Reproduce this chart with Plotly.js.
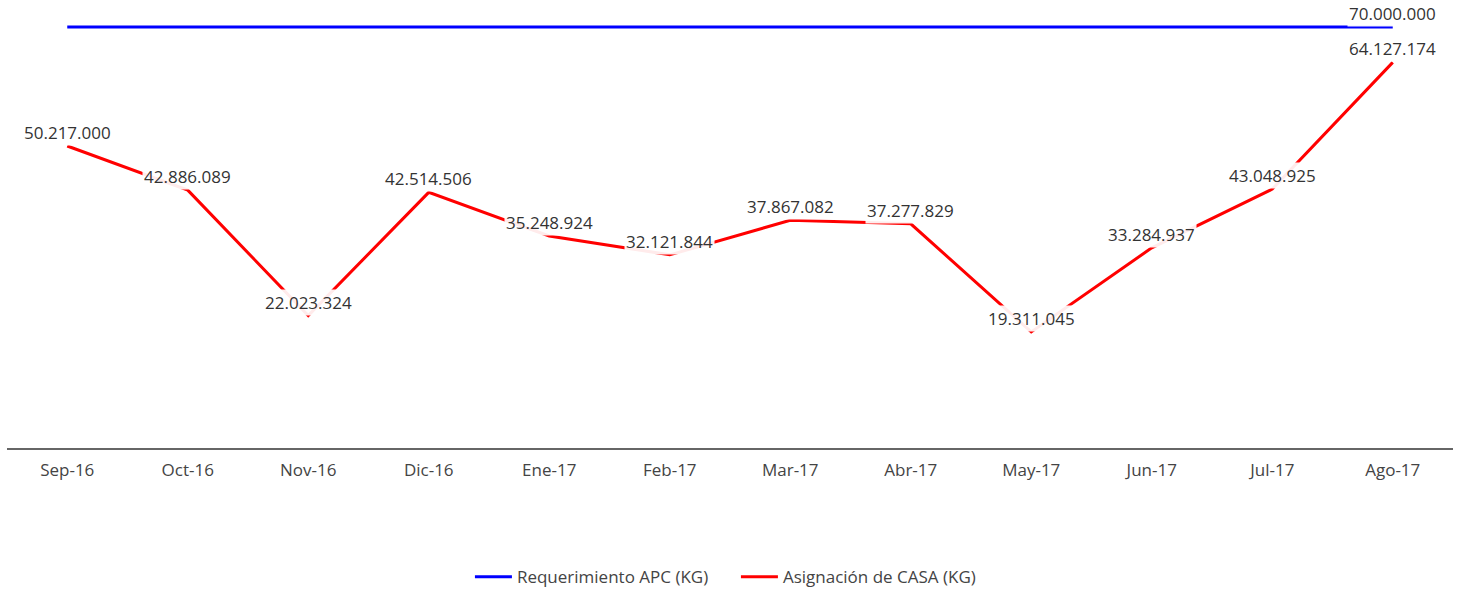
<!DOCTYPE html>
<html>
<head>
<meta charset="utf-8">
<script src="https://cdn.plot.ly/plotly-3.0.1.min.js"></script>
<style>html,body{margin:0;padding:0;background:#fff;}#chart{width:1459px;height:592px;}</style>
</head>
<body>
<div id="chart"></div>
<script>
const months = ["Sep-16","Oct-16","Nov-16","Dic-16","Ene-17","Feb-17","Mar-17","Abr-17","May-17","Jun-17","Jul-17","Ago-17"];
const requerimiento = [70000000,70000000,70000000,70000000,70000000,70000000,70000000,70000000,70000000,70000000,70000000,70000000];
const asignacion = [50217000,42886089,22023324,42514506,35248924,32121844,37867082,37277829,19311045,33284937,43048925,64127174];
const requerimientoLabels = ["","","","","","","","","","","","70.000.000"];
const asignacionLabels = ["50.217.000","42.886.089","22.023.324","42.514.506","35.248.924","32.121.844","37.867.082","37.277.829","19.311.045","33.284.937","43.048.925","64.127.174"];

const font = "'Open Sans', 'Noto Sans', sans-serif";

const traces = [
  {x: months, y: requerimiento, type: 'scatter', mode: 'lines', name: 'Requerimiento APC (KG)',
   line: {color: '#0000ff', width: 3}, hoverinfo: 'none'},
  {x: months, y: asignacion, type: 'scatter', mode: 'lines', name: 'Asignación de CASA (KG)',
   line: {color: '#ff0000', width: 3}, hoverinfo: 'none'}
];

const annotations = [];
function addLabels(ys, labels) {
  for (let i = 0; i < months.length; i++) {
    if (!labels[i]) continue;
    annotations.push({
      x: months[i], y: ys[i], xref: 'x', yref: 'y', text: labels[i], showarrow: false,
      xanchor: 'center', yanchor: 'bottom', bgcolor: 'rgba(255,255,255,0.92)', borderpad: 1,
      font: {family: font, size: 17, color: '#333'}
    });
  }
}
addLabels(requerimiento, requerimientoLabels);
addLabels(asignacion, asignacionLabels);

const layout = {
  width: 1459, height: 592,
  margin: {l: 7, r: 6, t: 0, b: 144},
  paper_bgcolor: '#fff', plot_bgcolor: '#fff',
  font: {family: font, size: 16, color: '#444'},
  showlegend: true,
  legend: {orientation: 'h', x: 0.5041, xanchor: 'center', yref: 'container', y: 0.025, yanchor: 'middle',
           itemwidth: 37, entrywidth: 214, entrywidthmode: 'pixels',
           font: {family: font, size: 17, color: '#444'}},
  xaxis: {type: 'category', range: [-0.5, 11.5], showgrid: false, zeroline: false, showline: true,
          linecolor: '#666', linewidth: 2, ticks: '', ticklabelstandoff: 6, automargin: false,
          tickfont: {family: font, size: 17, color: '#444'}, fixedrange: true},
  yaxis: {range: [0, 74500000], showgrid: false, zeroline: false, showline: false,
          showticklabels: false, ticks: '', fixedrange: true},
  annotations: annotations
};

Plotly.newPlot('chart', traces, layout, {displayModeBar: false, staticPlot: true});
</script>
</body>
</html>
